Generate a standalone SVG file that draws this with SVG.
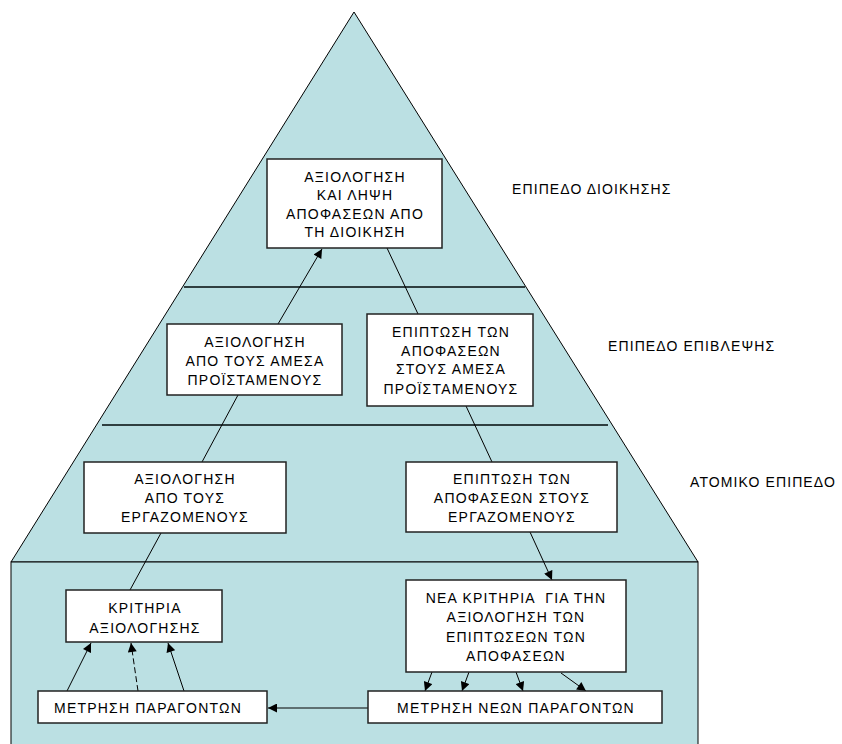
<svg xmlns="http://www.w3.org/2000/svg" width="842" height="744" viewBox="0 0 842 744">
<style>
.bg{fill:#bbe0e3;stroke:#000;stroke-width:1}
.lvl{stroke:#2f3f40;stroke-width:2;fill:none}
.box{fill:#fff;stroke:#222;stroke-width:1.5}
.t{font-family:"Liberation Sans",Arial,sans-serif;font-size:14px;letter-spacing:1.2px;fill:#000;text-anchor:middle}
.lab{font-family:"Liberation Sans",Arial,sans-serif;font-size:14px;letter-spacing:1.1px;fill:#000}
.c{stroke:#000;stroke-width:1;fill:none}
.d{stroke-dasharray:6 3}
</style>
<defs>
<marker id="ah" viewBox="0 0 10 10" refX="10" refY="5" markerWidth="10" markerHeight="9" markerUnits="userSpaceOnUse" orient="auto">
<path d="M0,0 L10,5 L0,10 z" fill="#000"/>
</marker>
</defs>
<g id="background">
<polygon class="bg" points="354,12 698,562 11,562"/>
<rect class="bg" x="11" y="562" width="687" height="190"/>
<line class="lvl" x1="184" y1="287" x2="525" y2="287"/>
<line class="lvl" x1="102" y1="425" x2="608" y2="425"/>
</g>
<g id="level-labels">
<text class="lab" x="512" y="194">ΕΠΙΠΕΔΟ ΔΙΟΙΚΗΣΗΣ</text>
<text class="lab" x="608" y="351">ΕΠΙΠΕΔΟ ΕΠΙΒΛΕΨΗΣ</text>
<text class="lab" x="690" y="487">ΑΤΟΜΙΚΟ ΕΠΙΠΕΔΟ</text>
</g>
<g id="connectors">
<line class="c" x1="278" y1="324" x2="322" y2="249" marker-end="url(#ah)"/>
<line class="c" x1="387" y1="248" x2="418" y2="314"/>
<line class="c" x1="202" y1="462" x2="238" y2="395"/>
<line class="c" x1="466" y1="406" x2="492" y2="462"/>
<line class="c" x1="161" y1="533" x2="130" y2="590"/>
<line class="c" x1="530" y1="532" x2="552" y2="580" marker-end="url(#ah)"/>
<line class="c" x1="368" y1="708" x2="268" y2="708" marker-end="url(#ah)"/>
<line class="c" x1="67" y1="691" x2="91" y2="643" marker-end="url(#ah)"/>
<line class="c d" x1="138" y1="691" x2="131" y2="643" marker-end="url(#ah)"/>
<line class="c" x1="184" y1="691" x2="168" y2="643" marker-end="url(#ah)"/>
<line class="c" x1="432" y1="672" x2="425" y2="691" marker-end="url(#ah)"/>
<line class="c" x1="469" y1="672" x2="462" y2="691" marker-end="url(#ah)"/>
<line class="c" x1="516" y1="672" x2="523" y2="691" marker-end="url(#ah)"/>
<line class="c" x1="561" y1="673" x2="586" y2="691" marker-end="url(#ah)"/>
</g>
<g id="n1">
<rect class="box" x="267" y="159" width="175" height="89"/>
<text class="t" x="355" y="182">ΑΞΙΟΛΟΓΗΣΗ</text>
<text class="t" x="355" y="200">ΚΑΙ ΛΗΨΗ</text>
<text class="t" x="355" y="219">ΑΠΟΦΑΣΕΩΝ ΑΠΟ</text>
<text class="t" x="355" y="237">ΤΗ ΔΙΟΙΚΗΣΗ</text>
</g>
<g id="n2">
<rect class="box" x="167" y="324" width="175" height="71"/>
<text class="t" x="255" y="347">ΑΞΙΟΛΟΓΗΣΗ</text>
<text class="t" x="255" y="366">ΑΠΟ ΤΟΥΣ ΑΜΕΣΑ</text>
<text class="t" x="255" y="385">ΠΡΟΪΣΤΑΜΕΝΟΥΣ</text>
</g>
<g id="n3">
<rect class="box" x="367" y="314" width="166" height="92"/>
<text class="t" x="451" y="337">ΕΠΙΠΤΩΣΗ ΤΩΝ</text>
<text class="t" x="451" y="356">ΑΠΟΦΑΣΕΩΝ</text>
<text class="t" x="451" y="374">ΣΤΟΥΣ ΑΜΕΣΑ</text>
<text class="t" x="451" y="394">ΠΡΟΪΣΤΑΜΕΝΟΥΣ</text>
</g>
<g id="n4">
<rect class="box" x="84" y="462" width="202" height="71"/>
<text class="t" x="185" y="484">ΑΞΙΟΛΟΓΗΣΗ</text>
<text class="t" x="185" y="503">ΑΠΟ ΤΟΥΣ</text>
<text class="t" x="185" y="522">ΕΡΓΑΖΟΜΕΝΟΥΣ</text>
</g>
<g id="n5">
<rect class="box" x="406" y="462" width="211" height="70"/>
<text class="t" x="512" y="484">ΕΠΙΠΤΩΣΗ ΤΩΝ</text>
<text class="t" x="512" y="503">ΑΠΟΦΑΣΕΩΝ ΣΤΟΥΣ</text>
<text class="t" x="512" y="522">ΕΡΓΑΖΟΜΕΝΟΥΣ</text>
</g>
<g id="n6">
<rect class="box" x="66" y="590" width="156" height="52"/>
<text class="t" x="145" y="613">ΚΡΙΤΗΡΙΑ</text>
<text class="t" x="145" y="633">ΑΞΙΟΛΟΓΗΣΗΣ</text>
</g>
<g id="n7">
<rect class="box" x="38" y="691" width="229" height="32"/>
<text class="t" x="148" y="713">ΜΕΤΡΗΣΗ ΠΑΡΑΓΟΝΤΩΝ</text>
</g>
<g id="n8">
<rect class="box" x="406" y="580" width="220" height="92"/>
<text class="t" x="516" y="603" xml:space="preserve">ΝΕΑ ΚΡΙΤΗΡΙΑ  ΓΙΑ ΤΗΝ</text>
<text class="t" x="516" y="622">ΑΞΙΟΛΟΓΗΣΗ ΤΩΝ</text>
<text class="t" x="516" y="642">ΕΠΙΠΤΩΣΕΩΝ ΤΩΝ</text>
<text class="t" x="516" y="661">ΑΠΟΦΑΣΕΩΝ</text>
</g>
<g id="n9">
<rect class="box" x="368" y="691" width="294" height="32"/>
<text class="t" x="516" y="713">ΜΕΤΡΗΣΗ ΝΕΩΝ ΠΑΡΑΓΟΝΤΩΝ</text>
</g>
</svg>
